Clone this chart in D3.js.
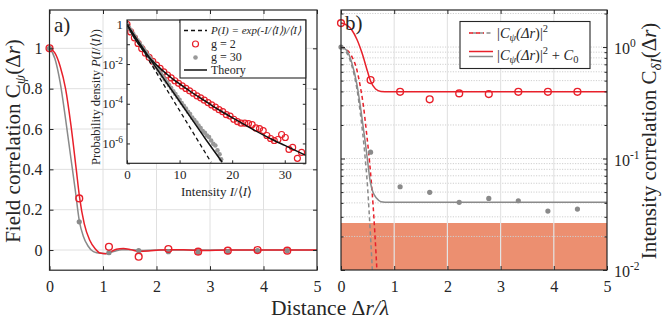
<!DOCTYPE html>
<html><head><meta charset="utf-8">
<script src="https://cdn.jsdelivr.net/npm/d3@7"></script>
<style>
body{margin:0;background:#fff}
svg{display:block}
text{font-family:"Liberation Serif","Times New Roman",serif;fill:#262626}
</style>
</head><body>
<svg id="c" width="664" height="324"></svg>
<script>
// ---------------- data ----------------
const distances        = [0, 0.556, 1.111, 1.667, 2.222, 2.778, 3.333, 3.889, 4.444];
const fieldCorrG2      = [1, 0.256, 0.016, -0.033, 0.005, -0.008, -0.003, 0.0, -0.003];
const fieldCorrG30     = [1, 0.14, -0.013, -0.003, -0.008, -0.011, -0.008, -0.003, -0.003];
const intensityCorrG2  = [1.64, 0.506, 0.397, 0.34, 0.384, 0.379, 0.397, 0.397, 0.397];
const intensityCorrG30 = [1.0, 0.114, 0.0558, 0.0498, 0.0405, 0.0439, 0.0418, 0.0338, 0.0352];

// fitted curves, panel a
const fieldFitXG2  = [0,0.1,0.2,0.3,0.4,0.5,0.56,0.65,0.75,0.85,0.95,1.05,1.15,1.25,1.38,1.52,1.68,1.85,2.05,2.3,2.6,2.9,3.3,4,5];
const fieldFitYG2  = [1,0.977,0.91,0.8,0.62,0.4,0.265,0.13,0.05,0.008,-0.015,-0.018,-0.008,0.004,0.008,0.002,-0.007,-0.005,0,0.002,0,-0.002,0,0,0];
const fieldFitXG30 = [0,0.1,0.2,0.3,0.4,0.48,0.557,0.63,0.72,0.82,0.95,1.07,1.2,1.35,1.5,1.7,2,5];
const fieldFitYG30 = [1,0.95,0.83,0.65,0.455,0.3,0.145,0.07,0.02,-0.008,-0.016,-0.017,-0.008,0.002,0.002,-0.002,0,0];

// curves, panel b
const sqFitXG2   = [0,0.1,0.2,0.3,0.36,0.42,0.48,0.54,0.6,0.64,0.68];
const sqFitYG2   = [1,0.955,0.83,0.62,0.45,0.3,0.17,0.09,0.04,0.02,0.009];
const sqFitXG30  = [0,0.1,0.2,0.3,0.38,0.44,0.5,0.55,0.6];
const sqFitYG30  = [1,0.9,0.69,0.42,0.22,0.12,0.055,0.022,0.008];
const totFitXG2  = [0,0.1,0.2,0.3,0.4,0.5,0.56,0.65,0.75,0.9,5];
const totFitYG2  = [1.64,1.58,1.43,1.17,0.87,0.6,0.49,0.42,0.4,0.397,0.397];
const totFitXG30 = [0,0.1,0.2,0.3,0.38,0.44,0.5,0.55,0.6,0.67,0.75,0.9,5];
const totFitYG30 = [1,0.94,0.73,0.46,0.26,0.16,0.095,0.062,0.05,0.044,0.041,0.0405,0.0405];
const noiseFloor = 0.0264;

// inset: intensity statistics (log10 of probability density)
const expLawI = [0, 16];
const expLawLogP = [0, -6.95];
const theoryIG2 = [0,1,2,3,4,5,6,7,8,9,10,12,14,16,18,20,22,24,26,28,30,32,34];
const theoryLogPG2 = [0,-0.5,-0.92,-1.28,-1.6,-1.88,-2.14,-2.38,-2.6,-2.81,-3.0,-3.37,-3.72,-4.06,-4.39,-4.7,-5.0,-5.3,-5.58,-5.85,-6.1,-6.35,-6.6];
const theoryIG30 = [0,2,5,10,15,18.1];
const theoryLogPG30 = [0,-0.8,-1.98,-3.88,-5.8,-6.95];
const histIG2 = [0,0.7,1.4,2.1,2.8,3.5,4.2,4.9,5.6,6.3,7.0,7.7,8.4,9.1,9.8,10.5,11.2,11.9,12.6,13.3,14.0,14.7,15.4,16.1,16.8,17.5,18.2,18.9,19.6,20.3,21.0,21.7,22.4,23.1,23.8,24.5,25.2,25.9,26.6,27.3,28.0,28.7,29.4,30.1,30.8,31.5,32.4,33.2];
const histLogPG2 = [0,-0.38,-0.68,-0.96,-1.22,-1.45,-1.66,-1.86,-2.05,-2.22,-2.39,-2.55,-2.7,-2.84,-2.97,-3.1,-3.23,-3.35,-3.47,-3.6,-3.7,-3.82,-3.94,-4.06,-4.17,-4.3,-4.4,-4.55,-4.62,-4.78,-4.9,-4.98,-4.98,-5.0,-5.05,-5.22,-5.25,-5.35,-5.6,-5.75,-5.85,-5.8,-5.55,-5.7,-6.3,-6.2,-6.75,-6.45];
const histIG30 = [0,0.4,0.8,1.2,1.6,2.0,2.4,2.8,3.2,3.6,4.0,4.4,4.8,5.2,5.6,6.0,6.4,6.8,7.2,7.6,8.0,8.4,8.8,9.2,9.6,10.0,10.4,10.8,11.2,11.6,12.0,12.4,12.8,13.2,13.6,14.0,14.4,14.8,15.2,15.6,16.0,16.4,16.8,17.2,17.6,17.9];
const histLogPG30 = [0,-0.17,-0.33,-0.49,-0.64,-0.8,-0.95,-1.1,-1.25,-1.4,-1.56,-1.71,-1.86,-2.01,-2.16,-2.31,-2.46,-2.61,-2.77,-2.92,-3.06,-3.21,-3.37,-3.51,-3.66,-3.8,-3.96,-4.1,-4.24,-4.4,-4.52,-4.7,-4.82,-4.95,-5.1,-5.22,-5.38,-5.46,-5.6,-5.68,-5.85,-6.02,-6.1,-6.35,-6.55,-6.8];

const xTicks = [0,1,2,3,4,5];
const yTicksA = [0,0.2,0.4,0.6,0.8,1];
const insetXTicks = [0,10,20,30];
const insetYLabelExp = [0,-2,-4,-6];

// ---------------- style ----------------
const FONT = '"Liberation Serif","Times New Roman",serif';
const RED = "#e8202a", GRAY = "#8a8a8a", GRID = "#e0e0e0", FILL = "#ec8f70", INK = "#262626";
const svg = d3.select("#c");

function rich(g, x, y, parts, o) {
  const size = o.size;
  const t = g.append("text").attr("x", x).attr("y", y).attr("font-size", size)
    .style("font-family", FONT).attr("text-anchor", o.anchor || "start");
  if (o.rotate) t.attr("transform", `rotate(${o.rotate},${x},${y})`);
  parts.forEach(p => {
    const s = t.append("tspan").text(p.t);
    if (p.i) s.attr("font-style", "italic");
    if (p.sub) s.attr("font-size", size * 0.72).attr("baseline-shift", (-0.22 * size) + "px");
    if (p.sup) s.attr("font-size", size * 0.72).attr("baseline-shift", (0.42 * size) + "px");
  });
  return t;
}
const zip = (xs, ys) => xs.map((x, i) => [x, ys[i]]);

function styleAxis(g, size) {
  g.attr("font-family", null).attr("font-size", null);
  g.select(".domain").remove();
  g.selectAll(".tick line").attr("stroke", INK).attr("stroke-width", 1);
  g.selectAll(".tick text").attr("font-size", size).attr("fill", INK).style("font-family", FONT);
}

// ================= Panel a =================
const xA = d3.scaleLinear().domain([0, 5]).range([49.5, 317]);
const yA = d3.scaleLinear().domain([-0.1, 1.19]).range([270.2, 10]);
const gA = svg.append("g");
gA.append("rect").attr("x", 49.5).attr("y", 10).attr("width", 317 - 49.5).attr("height", 260.2).attr("fill", "#fff");
gA.selectAll(".gx").data(xTicks.slice(1, -1)).join("line")
  .attr("x1", d => xA(d)).attr("x2", d => xA(d)).attr("y1", 10).attr("y2", 270.2)
  .attr("stroke", GRID).attr("stroke-width", 1);
gA.selectAll(".gy").data(yTicksA).join("line")
  .attr("x1", 49.5).attr("x2", 317).attr("y1", d => yA(d)).attr("y2", d => yA(d))
  .attr("stroke", GRID).attr("stroke-width", 1);

const lineA = d3.line().x(d => xA(d[0])).y(d => yA(d[1])).curve(d3.curveMonotoneX);
gA.append("path").attr("d", lineA(zip(fieldFitXG30, fieldFitYG30))).attr("fill", "none").attr("stroke", GRAY).attr("stroke-width", 1.5);
gA.append("path").attr("d", lineA(zip(fieldFitXG2, fieldFitYG2))).attr("fill", "none").attr("stroke", RED).attr("stroke-width", 1.5);
gA.selectAll(".p30").data(zip(distances, fieldCorrG30)).join("circle")
  .attr("cx", d => xA(d[0])).attr("cy", d => yA(d[1])).attr("r", 2.6).attr("fill", GRAY);
gA.selectAll(".p2").data(zip(distances, fieldCorrG2)).join("circle")
  .attr("cx", d => xA(d[0])).attr("cy", d => yA(d[1])).attr("r", 3.4).attr("fill", "none")
  .attr("stroke", RED).attr("stroke-width", 1.4);

gA.append("g").attr("transform", "translate(0,270.2)")
  .call(d3.axisBottom(xA).tickValues(xTicks).tickSize(-4).tickPadding(10).tickFormat(d3.format("~g"))).call(g => styleAxis(g, 16));
gA.append("g").attr("transform", "translate(0,10)")
  .call(d3.axisTop(xA).tickValues(xTicks).tickSize(-4).tickFormat("")).call(g => styleAxis(g, 16));
gA.append("g").attr("transform", "translate(49.5,0)")
  .call(d3.axisLeft(yA).tickValues(yTicksA).tickSize(-4).tickPadding(7).tickFormat(d3.format("~g"))).call(g => styleAxis(g, 16));
gA.append("g").attr("transform", "translate(317,0)")
  .call(d3.axisRight(yA).tickValues(yTicksA).tickSize(-4).tickFormat("")).call(g => styleAxis(g, 16));
gA.append("rect").attr("x", 49.5).attr("y", 10).attr("width", 317 - 49.5).attr("height", 260.2)
  .attr("fill", "none").attr("stroke", INK).attr("stroke-width", 1.2);

// ---------------- inset ----------------
const xI = d3.scaleLinear().domain([0, 34]).range([127, 305.8]);
const yI = d3.scaleLog().domain([1e-7, Math.pow(10, 0.22)]).range([163.3, 20]);
const gI = svg.append("g");
gI.append("rect").attr("x", 127).attr("y", 20).attr("width", 305.8 - 127).attr("height", 143.3).attr("fill", "#fff");
const clipI = svg.append("clipPath").attr("id", "clipI");
clipI.append("rect").attr("x", 127).attr("y", 20).attr("width", 305.8 - 127).attr("height", 143.3);
const gIc = gI.append("g").attr("clip-path", "url(#clipI)");
const lineI = d3.line().x(d => xI(d[0])).y(d => yI(Math.pow(10, d[1])));
const lineIc = d3.line().x(d => xI(d[0])).y(d => yI(Math.pow(10, d[1]))).curve(d3.curveMonotoneX);
gIc.selectAll(".h2").data(zip(histIG2, histLogPG2)).join("circle")
  .attr("cx", d => xI(d[0])).attr("cy", d => yI(Math.pow(10, d[1]))).attr("r", 3)
  .attr("fill", "none").attr("stroke", RED).attr("stroke-width", 1.2);
gIc.selectAll(".h30").data(zip(histIG30, histLogPG30)).join("circle")
  .attr("cx", d => xI(d[0])).attr("cy", d => yI(Math.pow(10, d[1]))).attr("r", 2.3).attr("fill", "#999");
gIc.append("path").attr("d", lineI(zip(expLawI, expLawLogP))).attr("fill", "none").attr("stroke", "#111")
  .attr("stroke-width", 1.3).attr("stroke-dasharray", "4,3");
gIc.append("path").attr("d", lineIc(zip(theoryIG30, theoryLogPG30))).attr("fill", "none").attr("stroke", "#111").attr("stroke-width", 1.5);
gIc.append("path").attr("d", lineIc(zip(theoryIG2, theoryLogPG2))).attr("fill", "none").attr("stroke", "#111").attr("stroke-width", 1.5);

const decades = [0,-1,-2,-3,-4,-5,-6,-7].map(e => Math.pow(10, e));
gI.append("g").attr("transform", "translate(0,163.3)")
  .call(d3.axisBottom(xI).tickValues(insetXTicks).tickSize(-3).tickPadding(6).tickFormat(d3.format("~g")))
  .call(g => styleAxis(g, 13));
gI.append("g").attr("transform", "translate(0,20)")
  .call(d3.axisTop(xI).tickValues(insetXTicks).tickSize(-3).tickFormat("")).call(g => styleAxis(g, 12));
gI.append("g").attr("transform", "translate(127,0)")
  .call(d3.axisLeft(yI).tickValues(decades).tickSize(-3).tickFormat("")).call(g => styleAxis(g, 12));
gI.append("g").attr("transform", "translate(305.8,0)")
  .call(d3.axisRight(yI).tickValues(decades).tickSize(-3).tickFormat("")).call(g => styleAxis(g, 12));
insetYLabelExp.forEach(e => {
  const y = yI(Math.pow(10, e)) + 4.5;
  if (e === 0) rich(gI, 123, y, [{t: "1"}], {size: 13, anchor: "end"});
  else rich(gI, 123, y, [{t: "10"}, {t: String(e), sup: true}], {size: 13, anchor: "end"});
});
gI.append("rect").attr("x", 127).attr("y", 20).attr("width", 305.8 - 127).attr("height", 143.3)
  .attr("fill", "none").attr("stroke", INK).attr("stroke-width", 1.2);
rich(gI, 216.5, 196, [{t: "Intensity "}, {t: "I", i: true}, {t: "/⟨"}, {t: "I", i: true}, {t: "⟩"}], {size: 13, anchor: "middle"});
rich(gI, 100, 97, [{t: "Probability density  "}, {t: "P", i: true}, {t: "("}, {t: "I", i: true}, {t: "/⟨"}, {t: "I", i: true}, {t: "⟩)"}], {size: 12.5, anchor: "middle", rotate: -90});

// inset legend
const lg = gI.append("g");
lg.append("rect").attr("x", 180).attr("y", 20).attr("width", 305.8 - 180).attr("height", 58)
  .attr("fill", "#fff").attr("stroke", INK).attr("stroke-width", 1.1);
const rows = [30.5, 44, 57.5, 70];
lg.append("line").attr("x1", 184).attr("x2", 207).attr("y1", rows[0]).attr("y2", rows[0])
  .attr("stroke", "#111").attr("stroke-width", 1.3).attr("stroke-dasharray", "4,3");
lg.append("circle").attr("cx", 195.5).attr("cy", rows[1]).attr("r", 3).attr("fill", "none").attr("stroke", RED).attr("stroke-width", 1.2);
lg.append("circle").attr("cx", 195.5).attr("cy", rows[2]).attr("r", 2.3).attr("fill", "#999");
lg.append("line").attr("x1", 184).attr("x2", 207).attr("y1", rows[3]).attr("y2", rows[3]).attr("stroke", "#111").attr("stroke-width", 1.5);
rich(lg, 211, rows[0] + 3.8, [{t: "P(I) = exp(-I/⟨I⟩)/⟨I⟩", i: true}], {size: 11});
rich(lg, 211, rows[1] + 3.8, [{t: "g = 2"}], {size: 12});
rich(lg, 211, rows[2] + 3.8, [{t: "g = 30"}], {size: 12});
rich(lg, 211, rows[3] + 3.8, [{t: "Theory"}], {size: 12});

rich(svg, 54, 32, [{t: "a)"}], {size: 21});

// ================= Panel b =================
const xB = d3.scaleLinear().domain([0, 5]).range([341, 607]);
const yB = d3.scaleLog().domain([0.01, 2.15]).range([270, 10]);
const gB = svg.append("g");
const clipB = svg.append("clipPath").attr("id", "clipB");
clipB.append("rect").attr("x", 341).attr("y", 10).attr("width", 266).attr("height", 260);
gB.append("rect").attr("x", 341).attr("y", yB(noiseFloor)).attr("width", 266).attr("height", 270 - yB(noiseFloor)).attr("fill", FILL);
const minorVals = [];
[0.01, 0.1, 1].forEach(b => { for (let k = 1; k <= 9; k++) { const v = b * k; if (v <= 2.15) minorVals.push(v); } });
gB.selectAll(".gyb").data(minorVals.filter(v => v > 0.01)).join("line")
  .attr("x1", 341).attr("x2", 607).attr("y1", d => yB(d)).attr("y2", d => yB(d))
  .attr("stroke", "#cfcfcf").attr("stroke-width", 1).attr("stroke-dasharray", "1.2,1.4");
gB.selectAll(".gxb").data(xTicks.slice(1, -1)).join("line")
  .attr("x1", d => xB(d)).attr("x2", d => xB(d)).attr("y1", 10).attr("y2", 270)
  .attr("stroke", "#e4e4e4").attr("stroke-width", 1.2);

const gBc = gB.append("g").attr("clip-path", "url(#clipB)");
const lineB = d3.line().x(d => xB(d[0])).y(d => yB(d[1])).curve(d3.curveMonotoneX);
gBc.append("path").attr("d", lineB(zip(sqFitXG30, sqFitYG30))).attr("fill", "none").attr("stroke", GRAY).attr("stroke-width", 1.5).attr("stroke-dasharray", "4,3");
gBc.append("path").attr("d", lineB(zip(sqFitXG2, sqFitYG2))).attr("fill", "none").attr("stroke", RED).attr("stroke-width", 1.5).attr("stroke-dasharray", "4,3");
gBc.append("path").attr("d", lineB(zip(totFitXG30, totFitYG30))).attr("fill", "none").attr("stroke", GRAY).attr("stroke-width", 1.5);
gBc.append("path").attr("d", lineB(zip(totFitXG2, totFitYG2))).attr("fill", "none").attr("stroke", RED).attr("stroke-width", 1.5);
gB.selectAll(".q30").data(zip(distances, intensityCorrG30)).join("circle")
  .attr("cx", d => xB(d[0])).attr("cy", d => yB(d[1])).attr("r", 2.6).attr("fill", GRAY);
gB.selectAll(".q2").data(zip(distances, intensityCorrG2)).join("circle")
  .attr("cx", d => xB(d[0])).attr("cy", d => yB(d[1])).attr("r", 3.4).attr("fill", "none")
  .attr("stroke", RED).attr("stroke-width", 1.4);

const majorB = [0.01, 0.1, 1];
gB.append("g").attr("transform", "translate(0,270)")
  .call(d3.axisBottom(xB).tickValues(xTicks).tickSize(-4).tickPadding(10.2).tickFormat(d3.format("~g"))).call(g => styleAxis(g, 16));
gB.append("g").attr("transform", "translate(0,10)")
  .call(d3.axisTop(xB).tickValues(xTicks).tickSize(-4).tickFormat("")).call(g => styleAxis(g, 16));
[[341, d3.axisLeft], [607, d3.axisRight]].forEach(([xp, ax]) => {
  gB.append("g").attr("transform", `translate(${xp},0)`)
    .call(ax(yB).tickValues(majorB).tickSize(-4).tickFormat("")).call(g => styleAxis(g, 12));
  gB.append("g").attr("transform", `translate(${xp},0)`)
    .call(ax(yB).tickValues(minorVals.filter(v => majorB.indexOf(v) < 0)).tickSize(-2.5).tickFormat("")).call(g => styleAxis(g, 12));
});
[0, -1, -2].forEach(e => {
  rich(gB, 614, yB(Math.pow(10, e)) + 7, [{t: "10"}, {t: String(e), sup: true}], {size: 16});
});
gB.append("rect").attr("x", 341).attr("y", 10).attr("width", 266).attr("height", 260)
  .attr("fill", "none").attr("stroke", INK).attr("stroke-width", 1.2);

const lb = gB.append("g");
lb.append("rect").attr("x", 460).attr("y", 21.5).attr("width", 130).attr("height", 47)
  .attr("fill", "#fff").attr("stroke", INK).attr("stroke-width", 1.1);
lb.append("line").attr("x1", 469).attr("x2", 493).attr("y1", 33).attr("y2", 33)
  .attr("stroke", GRAY).attr("stroke-width", 1.5).attr("stroke-dasharray", "4,3").attr("stroke-dashoffset", -3.5);
lb.append("line").attr("x1", 469).attr("x2", 484).attr("y1", 33).attr("y2", 33)
  .attr("stroke", RED).attr("stroke-width", 1.5).attr("stroke-dasharray", "4,3");
lb.append("line").attr("x1", 469).attr("x2", 493).attr("y1", 51.5).attr("y2", 51.5).attr("stroke", RED).attr("stroke-width", 1.5);
lb.append("line").attr("x1", 469).attr("x2", 493).attr("y1", 56.5).attr("y2", 56.5).attr("stroke", GRAY).attr("stroke-width", 1.5);
rich(lb, 497, 38, [{t: "|"}, {t: "C", i: true}, {t: "ψ", i: true, sub: true}, {t: "(Δ", i: true}, {t: "r", i: true}, {t: ")|"}, {t: "2", sup: true}], {size: 14.5});
rich(lb, 497, 59.5, [{t: "|"}, {t: "C", i: true}, {t: "ψ", i: true, sub: true}, {t: "(Δ", i: true}, {t: "r", i: true}, {t: ")|"}, {t: "2", sup: true}, {t: " + "}, {t: "C", i: true}, {t: "0", sub: true}], {size: 14.5});

rich(svg, 345, 30, [{t: "b)"}], {size: 21});

// ================= labels =================
rich(svg, 20, 141, [{t: "Field correlation "}, {t: "C"}, {t: "ψ", i: true, sub: true}, {t: "(Δ"}, {t: "r", i: true}, {t: ")"}], {size: 21, anchor: "middle", rotate: -90});
rich(svg, 656, 141, [{t: "Intensity correlation "}, {t: "C"}, {t: "δI", i: true, sub: true}, {t: "(Δ"}, {t: "r", i: true}, {t: ")"}], {size: 21, anchor: "middle", rotate: -90});
rich(svg, 330, 315, [{t: "Distance Δ"}, {t: "r", i: true}, {t: "/λ", i: true}], {size: 21.5, anchor: "middle"});
</script>
</body></html>
